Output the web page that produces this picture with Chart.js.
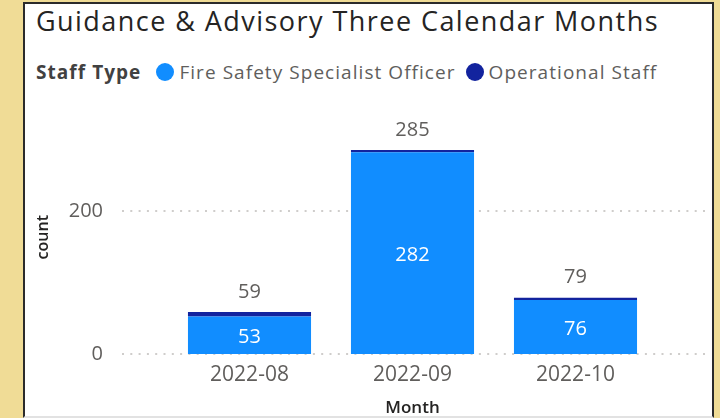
<!DOCTYPE html>
<html>
<head>
<meta charset="utf-8">
<script src="https://cdn.jsdelivr.net/npm/chart.js@4.4.0/dist/chart.umd.min.js"></script>
<style>
  html, body { margin: 0; padding: 0; }
  body { width: 720px; height: 418px; background: #f0dc96; position: relative; overflow: hidden; }
  .panel {
    position: absolute; left: 23px; top: 2px; width: 691px; height: 416px;
    background: #fff; border: 2px solid #2b2b2b; border-bottom: 2px solid #e2e2e2; box-sizing: border-box;
  }
  .title {
    position: absolute; left: 11px; top: 3px; margin: 0; font-weight: normal;
    font: 27px/27px "Open Sans", sans-serif; color: #252423; white-space: nowrap; letter-spacing: 1.45px;
  }
  .legend {
    position: absolute; left: 11px; top: 55px; font: 19px "Open Sans", sans-serif; letter-spacing: 1.05px;
    color: #605e5c; white-space: nowrap; display: flex; align-items: center;
  }
  .legend b { color: #414141; margin-right: 15px; }
  .legend .dot { width: 18px; height: 18px; border-radius: 50%; display: inline-block; margin-right: 5px; }
  .legend .item { display: flex; align-items: center; margin-right: 10px; }
  #wrap { position: absolute; left: 26px; top: 100px; width: 685px; height: 318px; }
</style>
</head>
<body>
<div class="panel">
  <h1 class="title">Guidance &amp; Advisory Three Calendar Months</h1>
  <div class="legend" id="legend"><b>Staff Type</b></div>
</div>
<div id="wrap"><canvas id="chart"></canvas></div>
<script>
const MONTHS = ['2022-08', '2022-09', '2022-10'];
const FIRE_SAFETY = [53, 282, 76];
const OPERATIONAL = [6, 3, 3];
const Y_TICKS = [0, 200];

const SERIES = [
  { label: 'Fire Safety Specialist Officer', data: FIRE_SAFETY, color: '#118dff' },
  { label: 'Operational Staff', data: OPERATIONAL, color: '#12239e' },
];

const TEXT_GRAY = '#605e5c';
const FONT = 'Open Sans';

// legend (html)
const legendEl = document.getElementById('legend');
SERIES.forEach((s) => {
  const span = document.createElement('span');
  span.className = 'item';
  span.innerHTML = `<span class="dot" style="background:${s.color}"></span>${s.label}`;
  legendEl.appendChild(span);
});

// dotted grid lines that run past the bar area, like Power BI
const dottedGrid = {
  id: 'dottedGrid',
  beforeDatasetsDraw(chart) {
    const { ctx, chartArea, scales } = chart;
    ctx.save();
    ctx.strokeStyle = '#cfcdcb';
    ctx.lineWidth = 2;
    ctx.setLineDash([2, 6.3]);
    Y_TICKS.forEach((v) => {
      const y = Math.round(scales.y.getPixelForValue(v));
      ctx.beginPath();
      ctx.moveTo(chartArea.left - 46, y);
      ctx.lineTo(chartArea.right + 51, y);
      ctx.stroke();
    });
    ctx.restore();
  },
};

// value labels: inside the first series, totals above the stack
const valueLabels = {
  id: 'valueLabels',
  afterDatasetsDraw(chart) {
    const { ctx } = chart;
    ctx.save();
    ctx.font = `20px "${FONT}", sans-serif`;
    ctx.textAlign = 'center';
    ctx.textBaseline = 'middle';
    const inner = chart.getDatasetMeta(0).data;
    const top = chart.getDatasetMeta(1).data;
    MONTHS.forEach((m, i) => {
      const bar = inner[i];
      ctx.fillStyle = '#ffffff';
      ctx.fillText(String(FIRE_SAFETY[i]), bar.x, (bar.y + bar.base) / 2 + 2);
      ctx.fillStyle = TEXT_GRAY;
      ctx.fillText(String(FIRE_SAFETY[i] + OPERATIONAL[i]), top[i].x, top[i].y - 20);
    });
    ctx.restore();
  },
};

new Chart(document.getElementById('chart'), {
  type: 'bar',
  data: {
    labels: MONTHS,
    datasets: SERIES.map((s) => ({
      label: s.label,
      data: s.data,
      backgroundColor: s.color,
      categoryPercentage: 1,
      barPercentage: 0.755,
    })),
  },
  options: {
    responsive: true,
    maintainAspectRatio: false,
    animation: false,
    layout: { padding: { top: 0, right: 54, bottom: 0, left: 0 } },
    plugins: { legend: { display: false }, tooltip: { enabled: false } },
    scales: {
      x: {
        stacked: true,
        grid: { display: false, drawTicks: false },
        border: { display: false },
        ticks: { color: TEXT_GRAY, font: { family: FONT, size: 21 }, padding: 8 },
        title: {
          display: true, text: 'Month', color: '#252423',
          font: { family: FONT, size: 17, weight: '600' },
          padding: { top: 2, bottom: 0 },
        },
      },
      y: {
        stacked: true,
        min: 0,
        max: 327,
        afterBuildTicks: (scale) => { scale.ticks = Y_TICKS.map((v) => ({ value: v })); },
        afterFit: (scale) => { scale.width = 142; },
        grid: { display: true, drawOnChartArea: false, drawTicks: true, tickLength: 57, color: 'rgba(0,0,0,0)' },
        border: { display: false },
        ticks: { color: TEXT_GRAY, font: { family: FONT, size: 20 }, padding: 8 },
        title: {
          display: true, text: 'count', color: '#252423',
          font: { family: FONT, size: 16, weight: '600' },
          padding: { top: 8, bottom: 0 },
        },
      },
    },
  },
  plugins: [dottedGrid, valueLabels],
});
</script>
</body>
</html>
